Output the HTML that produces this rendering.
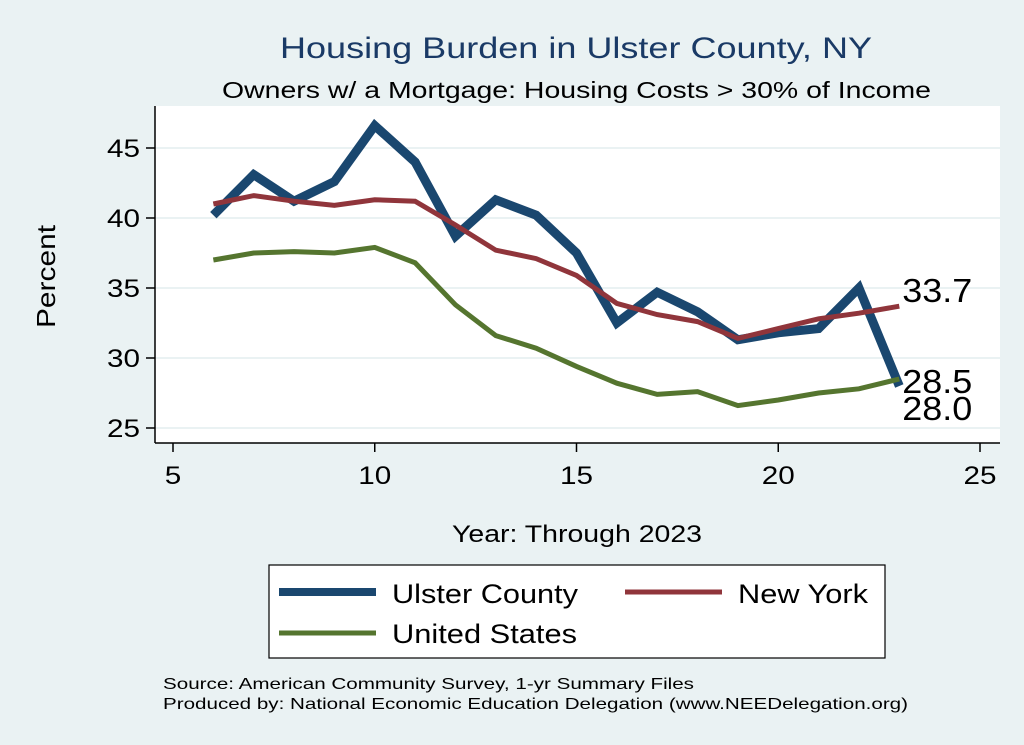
<!DOCTYPE html>
<html><head><meta charset="utf-8"><style>
body{margin:0;background:#eaf2f3;font-family:"Liberation Sans",sans-serif;}
svg{display:block}
</style></head><body>
<svg id="c" width="1024" height="745">
<rect width="1024" height="745" fill="#eaf2f3"/>
<text x="280" y="58" font-size="30" fill="#1a3a66" textLength="592" lengthAdjust="spacingAndGlyphs">Housing Burden in Ulster County, NY</text>
<text x="222" y="98" font-size="23" fill="#000" textLength="709" lengthAdjust="spacingAndGlyphs">Owners w/ a Mortgage: Housing Costs &gt; 30% of Income</text>
<rect x="155" y="106" width="845" height="337" fill="#fff"/>
<g id="grid"></g>
<g id="lines"></g>
<line x1="155" y1="106" x2="155" y2="443" stroke="#000" stroke-width="1.5"/>
<line x1="155" y1="443" x2="1000" y2="443" stroke="#000" stroke-width="1.5"/>
<g id="ticks"></g>
<text x="55" y="328" font-size="26" textLength="103" lengthAdjust="spacingAndGlyphs" transform="rotate(-90 55 328)">Percent</text>
<text x="452" y="542" font-size="24" textLength="250" lengthAdjust="spacingAndGlyphs">Year: Through 2023</text>
<g>
<rect x="269" y="565" width="616" height="93" fill="#fff" stroke="#000" stroke-width="1.2"/>
<line x1="279" y1="592" x2="376" y2="592" stroke="#1a476f" stroke-width="8"/>
<text x="392" y="603" font-size="27" textLength="186" lengthAdjust="spacingAndGlyphs">Ulster County</text>
<line x1="625" y1="592" x2="722" y2="592" stroke="#90353b" stroke-width="5"/>
<text x="738" y="603" font-size="27" textLength="130" lengthAdjust="spacingAndGlyphs">New York</text>
<line x1="279" y1="633" x2="376" y2="633" stroke="#55752f" stroke-width="5"/>
<text x="392" y="643" font-size="27" textLength="185" lengthAdjust="spacingAndGlyphs">United States</text>
</g>
<text x="163" y="689" font-size="16" textLength="531" lengthAdjust="spacingAndGlyphs">Source: American Community Survey, 1-yr Summary Files</text>
<text x="163" y="709" font-size="16" textLength="745" lengthAdjust="spacingAndGlyphs">Produced by: National Economic Education Delegation (www.NEEDelegation.org)</text>
</svg>
<script>
const years=[6,7,8,9,10,11,12,13,14,15,16,17,18,19,20,21,22,23];
const ulster=[40.2,43.1,41.2,42.6,46.6,44.0,38.7,41.3,40.2,37.5,32.5,34.7,33.3,31.3,31.8,32.1,35.0,28.0];
const newYork=[41.0,41.6,41.2,40.9,41.3,41.2,39.5,37.7,37.1,35.9,33.9,33.1,32.6,31.4,32.1,32.8,33.2,33.7];
const unitedStates=[37.0,37.5,37.6,37.5,37.9,36.8,33.8,31.6,30.7,29.4,28.2,27.4,27.6,26.6,27.0,27.5,27.8,28.5];
const xTicks=[5,10,15,20,25];
const yTicks=[25,30,35,40,45];
const NS="http://www.w3.org/2000/svg";
const X=v=>173+(v-5)*(980-173)/20;
const Y=v=>428-(v-25)*14;
function mk(t,a,p){const e=document.createElementNS(NS,t);for(const k in a)e.setAttribute(k,a[k]);p.appendChild(e);return e;}
const g=document.getElementById('grid'),tk=document.getElementById('ticks'),ln=document.getElementById('lines');
yTicks.forEach(v=>{
 const l=mk('line',{x1:155,x2:1000,y1:Y(v),y2:Y(v),stroke:'#eaf2f3','stroke-width':2},g);
 
 
 mk('line',{x1:146,x2:155,y1:Y(v),y2:Y(v),stroke:'#000','stroke-width':1.5},tk);
 const t=mk('text',{x:107,y:Y(v)+9,'font-size':25,textLength:33,lengthAdjust:'spacingAndGlyphs'},tk);t.textContent=v;
 
 
});
xTicks.forEach(v=>{
 mk('line',{x1:X(v),x2:X(v),y1:443,y2:452,stroke:'#000','stroke-width':1.5},tk);
 const w=String(v).length*16.5;
 const t=mk('text',{x:X(v)-w/2,y:484,'font-size':25,textLength:w,lengthAdjust:'spacingAndGlyphs'},tk);t.textContent=v;
 
 
});
function series(d,c,w,name){
 const p=mk('polyline',{points:d.map((v,i)=>X(years[i])+','+Y(v)).join(' '),fill:'none',stroke:c,'stroke-width':w,'stroke-linejoin':'miter'},ln);
 
 
}
series(ulster,'#1a476f',9,'ulster-line');
series(newYork,'#90353b',5,'ny-line');
series(unitedStates,'#55752f',5,'us-line');
const last=years.length-1;
[[newYork,-4,'label-ny'],[unitedStates,14,'label-us'],[ulster,34,'label-ulster']].forEach(([d,dy,n])=>{
 const t=mk('text',{x:X(years[last])+3,y:Y(d[last])+dy,'font-size':33,textLength:70,lengthAdjust:'spacingAndGlyphs'},ln);
 t.textContent=d[last].toFixed(1);
 
 
});
</script>
</body></html>
